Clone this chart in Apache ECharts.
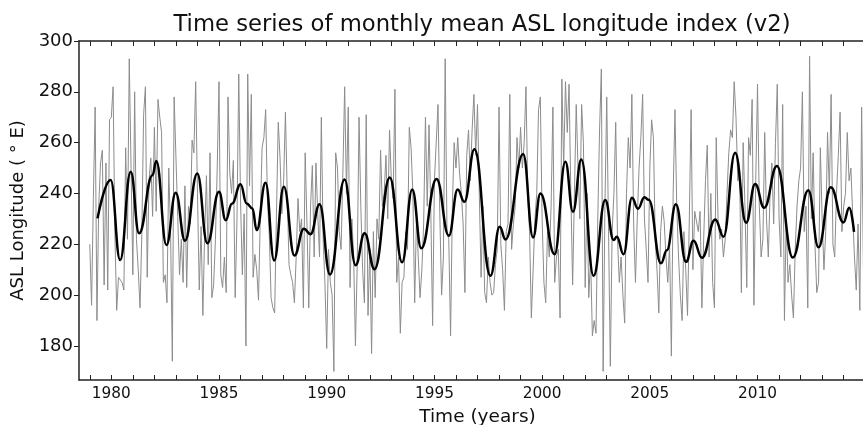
<!DOCTYPE html>
<html>
<head>
<meta charset="utf-8">
<title>ASL longitude index</title>
<script src="https://cdn.jsdelivr.net/npm/echarts@6/dist/echarts.min.js"></script>
<style>
  html, body { margin: 0; padding: 0; background: #fff; }
  #chart { width: 863px; height: 425px; }
</style>
</head>
<body>
<div id="chart"></div>
<script>
// monthly ASL longitude, Jan 1979 .. Dec 2014 (one row per year)
const startYear = 1979;
const monthlyIndex = [
  220, 196, 238, 274, 190, 235, 252, 257, 204, 252, 202, 269, // 1979
  270, 282, 224, 194, 207, 207, 205, 202, 258, 222, 293, 250, // 1980
  208, 280, 222, 210, 195, 224, 271, 282, 207, 245, 254, 231, // 1981
  266, 233, 277, 270, 264, 205, 208, 197, 250, 225, 174, 278, // 1982
  278, 231, 208, 222, 205, 243, 203, 235, 228, 261, 256, 284, // 1983
  240, 202, 227, 192, 224, 247, 212, 256, 199, 204, 222, 250, // 1984
  284, 208, 203, 215, 201, 278, 248, 240, 253, 199, 229, 287, // 1985
  237, 208, 232, 180, 287, 243, 279, 207, 216, 210, 198, 231, // 1986
  258, 262, 273, 237, 224, 199, 195, 193, 232, 268, 254, 232, // 1987
  245, 272, 240, 212, 208, 205, 197, 215, 238, 225, 230, 195, // 1988
  256, 228, 195, 235, 251, 215, 252, 232, 215, 270, 222, 205, // 1989
  179, 218, 205, 200, 170, 256, 250, 225, 218, 248, 282, 240, // 1990
  274, 203, 230, 215, 180, 212, 270, 235, 210, 197, 271, 192, // 1991
  218, 177, 225, 199, 230, 222, 257, 235, 240, 255, 230, 265, // 1992
  245, 238, 281, 205, 215, 185, 205, 207, 225, 218, 266, 258, // 1993
  240, 197, 230, 215, 199, 210, 228, 270, 235, 267, 232, 188, // 1994
  245, 260, 275, 232, 200, 215, 293, 225, 222, 184, 235, 260, // 1995
  250, 262, 248, 240, 228, 201, 255, 265, 245, 265, 279, 255, // 1996
  275, 240, 207, 235, 201, 197, 215, 205, 200, 201, 212, 218, // 1997
  274, 220, 210, 194, 225, 228, 279, 218, 228, 235, 262, 250, // 1998
  266, 250, 260, 282, 240, 225, 191, 210, 230, 240, 273, 278, // 1999
  230, 205, 197, 225, 215, 235, 274, 205, 215, 218, 191, 285, // 2000
  250, 284, 264, 283, 240, 204, 240, 275, 250, 230, 275, 260, // 2001
  203, 240, 199, 215, 184, 190, 185, 230, 265, 289, 170, 235, // 2002
  278, 225, 172, 225, 240, 268, 222, 205, 215, 200, 189, 240, // 2003
  262, 250, 279, 228, 205, 230, 250, 262, 279, 230, 218, 205, // 2004
  250, 269, 262, 222, 210, 193, 225, 235, 229, 215, 205, 220, // 2005
  176, 240, 273, 235, 215, 200, 190, 225, 210, 192, 230, 273, // 2006
  210, 233, 233, 225, 233, 195, 222, 245, 259, 215, 240, 205, // 2007
  195, 262, 230, 222, 226, 215, 222, 240, 256, 265, 262, 284, // 2008
  270, 245, 250, 201, 260, 235, 203, 262, 255, 277, 196, 245, // 2009
  283, 235, 215, 222, 264, 230, 215, 240, 252, 228, 260, 283, // 2010
  230, 215, 275, 190, 230, 205, 212, 200, 191, 218, 235, 245, // 2011
  250, 280, 225, 235, 195, 294, 230, 256, 220, 201, 205, 258, // 2012
  230, 210, 225, 264, 240, 279, 220, 215, 240, 255, 272, 225, // 2013
  235, 240, 264, 245, 250, 232, 215, 202, 228, 194, 274, 210  // 2014
];

// smoothed index, read at its turning points
const smoothYears = [
  1979.36, 1979.97, 1980.41, 1980.90, 1981.29, 1981.91, 1982.09, 1982.56, 1982.99, 1983.42,
  1983.99, 1984.46, 1985.00, 1985.31, 1985.60, 1986.00, 1986.28, 1986.55, 1986.75, 1987.16,
  1987.56, 1988.01, 1988.50, 1988.94, 1989.25, 1989.67, 1990.15, 1990.83, 1991.34, 1991.76,
  1992.22, 1992.93, 1993.50, 1993.97, 1994.39, 1995.10, 1995.67, 1996.08, 1996.39, 1996.86,
  1997.60, 1998.03, 1998.30, 1999.12, 1999.58, 1999.92, 2000.58, 2001.08, 2001.43, 2001.82,
  2002.39, 2002.93, 2003.32, 2003.47, 2003.78, 2004.17, 2004.45, 2004.75, 2004.95, 2005.52,
  2005.79, 2006.21, 2006.68, 2007.03, 2007.42, 2008.04, 2008.42, 2008.96, 2009.47, 2009.89,
  2010.31, 2010.90, 2011.64, 2012.36, 2012.83, 2013.40, 2013.99, 2014.26, 2014.48
];
const smoothIndex = [
  230.2, 245.3, 213.8, 248.5, 224.3, 247.2, 252.8, 219.7, 240.3, 221.4,
  247.9, 220.4, 240.7, 229.5, 236.0, 243.6, 236.1, 234.1, 225.6, 244.2,
  213.6, 242.6, 215.6, 226.1, 224.0, 235.8, 208.1, 245.5, 211.8, 224.3,
  210.2, 246.3, 212.9, 241.6, 218.4, 245.7, 223.4, 241.6, 236.7, 257.4,
  207.6, 226.9, 221.9, 255.5, 222.7, 240.0, 216.1, 252.5, 232.8, 253.4,
  207.6, 237.4, 221.7, 223.0, 216.1, 238.3, 234.0, 238.5, 237.5, 212.5,
  217.7, 235.8, 213.1, 221.4, 214.7, 229.8, 223.0, 256.0, 228.5, 243.7,
  234.4, 250.8, 214.8, 241.3, 218.8, 242.4, 228.6, 234.4, 224.9
];

const yTicks = [180, 200, 220, 240, 260, 280, 300];
const xLabelYears = [1980, 1985, 1990, 1995, 2000, 2005, 2010];
const xTickYears = [
  1979, 1980, 1981, 1982, 1983, 1984, 1985, 1986, 1987, 1988, 1989, 1990,
  1991, 1992, 1993, 1994, 1995, 1996, 1997, 1998, 1999, 2000, 2001, 2002,
  2003, 2004, 2005, 2006, 2007, 2008, 2009, 2010, 2011, 2012, 2013, 2014, 2015
];

const FONT = 'DejaVu Sans';
const X_MIN = 1978.5, X_MAX = 2015.5;
const Y_MIN = 166.6, Y_MAX = 300;

const monthlyData = monthlyIndex.map((v, i) => [startYear + i / 12, v]);
const smoothData = smoothYears.map((t, i) => [t, smoothIndex[i]]);

const chart = echarts.init(document.getElementById('chart'), null, { renderer: 'canvas' });

const spine = { show: true, lineStyle: { color: '#222', width: 1.5 } };

chart.setOption({
  animation: false,
  backgroundColor: '#fff',
  title: {
    text: 'Time series of monthly mean ASL longitude index (v2)',
    left: 477,
    textAlign: 'center',
    top: 9,
    textStyle: { fontFamily: FONT, fontSize: 22.7, fontWeight: 'normal', color: '#111' }
  },
  // the picture is cropped: let the axis title run off the bottom edge
  grid: { left: 79, right: -13, top: 41, bottom: 45, outerBoundsMode: 'none', containLabel: false },
  xAxis: [
    {
      type: 'value',
      position: 'bottom',
      min: X_MIN,
      max: X_MAX,
      name: 'Time (years)',
      nameLocation: 'middle',
      nameGap: 28,
      nameTextStyle: { fontFamily: FONT, fontSize: 18.5, color: '#111' },
      axisLine: spine,
      axisTick: { show: true, inside: true, length: 5, customValues: xTickYears, lineStyle: { color: '#222', width: 1 } },
      axisLabel: {
        customValues: xLabelYears,
        fontFamily: FONT, fontSize: 15.3, color: '#111', margin: 7,
        formatter: v => String(v)
      },
      splitLine: { show: false }
    },
    {
      type: 'value',
      position: 'top',
      min: X_MIN,
      max: X_MAX,
      axisLine: spine,
      axisTick: { show: true, inside: true, length: 5, customValues: xTickYears, lineStyle: { color: '#222', width: 1 } },
      axisLabel: { show: false },
      splitLine: { show: false }
    }
  ],
  yAxis: {
    type: 'value',
    min: Y_MIN,
    max: Y_MAX,
    name: 'ASL Longitude ( ° E)',
    nameLocation: 'middle',
    nameGap: 45,
    nameTextStyle: { fontFamily: FONT, fontSize: 18, color: '#111' },
    axisLine: spine,
    axisTick: { show: true, inside: false, length: 5, customValues: yTicks, lineStyle: { color: '#222', width: 1 } },
    axisLabel: {
      customValues: yTicks,
      fontFamily: FONT, fontSize: 18, color: '#111', margin: 6,
      formatter: v => String(v)
    },
    splitLine: { show: false }
  },
  series: [
    {
      name: 'monthly',
      type: 'line',
      data: monthlyData,
      showSymbol: false,
      symbol: 'none',
      lineStyle: { color: '#8c8c8c', width: 1 },
      z: 2
    },
    {
      name: 'smoothed',
      type: 'line',
      data: smoothData,
      showSymbol: false,
      symbol: 'none',
      smooth: 0.45,
      smoothMonotone: 'x',
      lineStyle: { color: '#000', width: 2.5 },
      z: 3
    }
  ]
});
</script>
</body>
</html>
